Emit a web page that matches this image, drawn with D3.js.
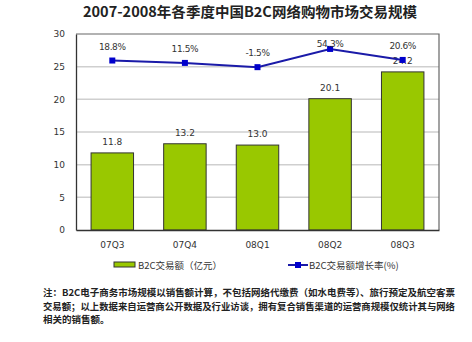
<!DOCTYPE html>
<html><head><meta charset="utf-8">
<script src="https://cdn.jsdelivr.net/npm/d3@7"></script>
<style>body{margin:0;background:#fff}svg{display:block}</style>
</head><body>
<script>
const title = "2007-2008年各季度中国B2C网络购物市场交易规模";
const categories = ["07Q3","07Q4","08Q1","08Q2","08Q3"];
const volume = [11.8, 13.2, 13.0, 20.1, 24.2];
const growth = [18.8, 11.5, -1.5, 54.3, 20.6];
const growthLabels = ["18.8%","11.5%","-1.5%","54.3%","20.6%"];
const yTicks = [0,5,10,15,20,25,30];
const seriesNames = ["B2C交易额（亿元）","B2C交易额增长率(%)"];
const noteLines = [
 "注：B2C电子商务市场规模以销售额计算，不包括网络代缴费（如水电费等）、旅行预定及航空客票",
 "交易额；以上数据来自运营商公开数据及行业访谈，拥有复合销售渠道的运营商规模仅统计其与网络",
 "相关的销售额。"
];

const W=472,H=342;
const m={l:76,r:439,t:34,b:230};
const svg=d3.select("body").append("svg").attr("width",W).attr("height",H);
const font="'Noto Sans CJK SC','DejaVu Sans',sans-serif";
const numFont="'DejaVu Sans',sans-serif";

svg.append("text").attr("x",250).attr("y",17).attr("text-anchor","middle")
 .attr("font-family",font).attr("font-weight","bold").attr("font-size",14)
 .attr("fill","#222").attr("textLength",334).attr("lengthAdjust","spacingAndGlyphs").text(title);

const x=d3.scaleBand().domain(categories).range([m.l,m.r]).paddingInner(0.415).paddingOuter(0.2075);
const y=d3.scaleLinear().domain([0,30]).range([m.b,m.t]);
const y2=d3.scaleLinear().domain([-500,100]).range([m.b,m.t]);

// grid
svg.append("g").selectAll("line").data(yTicks.filter(d=>d>0&&d<30)).join("line")
 .attr("x1",m.l).attr("x2",m.r).attr("y1",d=>y(d)).attr("y2",d=>y(d))
 .attr("stroke","#cfcfcf").attr("stroke-width",1.5);
// frame top/right
svg.append("path").attr("d",`M${m.l},${m.t}H${m.r}V${m.b}`).attr("fill","none").attr("stroke","#666").attr("stroke-width",1.2);

// y axis
const ya=svg.append("g").attr("transform",`translate(${m.l},0)`)
 .call(d3.axisLeft(y).tickValues(yTicks).tickSize(0).tickPadding(11));
ya.select(".domain").attr("stroke","#333").attr("stroke-width",1.3);
ya.selectAll("text").attr("font-family",numFont).attr("font-size",9).attr("fill","#333");

// bars
svg.append("g").selectAll("rect").data(volume).join("rect")
 .attr("x",(d,i)=>x(categories[i])).attr("width",x.bandwidth())
 .attr("y",d=>y(d)).attr("height",d=>y(0)-y(d))
 .attr("fill","#99c800").attr("stroke","#333").attr("stroke-width",1);

// x axis
const xa=svg.append("g").attr("transform",`translate(0,${m.b})`)
 .call(d3.axisBottom(x).tickSize(0).tickPadding(12));
xa.select(".domain").attr("stroke","#333").attr("stroke-width",1.3);
xa.selectAll("text").attr("font-family",numFont).attr("font-size",9).attr("fill","#333");

// bar labels
svg.append("g").selectAll("text").data(volume).join("text")
 .attr("x",(d,i)=>x(categories[i])+x.bandwidth()/2).attr("y",d=>y(d)-8)
 .attr("text-anchor","middle").attr("font-family",numFont).attr("font-size",9).attr("fill","#333")
 .text(d=>d.toFixed(1));

// line
const cx=i=>x(categories[i])+x.bandwidth()/2;
const line=d3.line().x((d,i)=>cx(i)).y(d=>y2(d));
svg.append("path").datum(growth).attr("d",line).attr("fill","none").attr("stroke","#1a1aa8").attr("stroke-width",2);
svg.append("g").selectAll("rect").data(growth).join("rect")
 .attr("x",(d,i)=>cx(i)-3).attr("y",d=>y2(d)-3).attr("width",6).attr("height",6).attr("fill","#0000cc");
svg.append("g").selectAll("text").data(growth).join("text")
 .attr("x",(d,i)=>cx(i)).attr("y",d=>Math.max(y2(d)-11,47))
 .attr("text-anchor","middle").attr("font-family",numFont).attr("font-size",9).attr("fill","#333")
 .attr("letter-spacing",-0.4).text((d,i)=>growthLabels[i]);

// legend
const lg=svg.append("g");
lg.append("rect").attr("x",114).attr("y",262).attr("width",21).attr("height",5).attr("fill","#99c800").attr("stroke","#333").attr("stroke-width",1);
lg.append("text").attr("x",138).attr("y",268.5).attr("font-family",font).attr("font-size",9.5).attr("fill","#333").text(seriesNames[0]);
lg.append("line").attr("x1",288).attr("x2",308).attr("y1",265).attr("y2",265).attr("stroke","#1a1aa8").attr("stroke-width",2);
lg.append("rect").attr("x",295).attr("y",262).attr("width",6).attr("height",6).attr("fill","#0000cc");
lg.append("text").attr("x",309).attr("y",268.5).attr("font-family",font).attr("font-size",9.5).attr("fill","#333").text(seriesNames[1]);

// notes
const nys=[295.5,309.5,323];
noteLines.forEach((t,i)=>{
 const tx=svg.append("text").attr("x",43).attr("y",nys[i]).attr("font-family",font).attr("font-weight","bold")
  .attr("font-size",9.5).attr("fill","#222").text(t);
 if(i<2) tx.attr("textLength",412).attr("lengthAdjust","spacingAndGlyphs");
});
</script>
</body></html>
